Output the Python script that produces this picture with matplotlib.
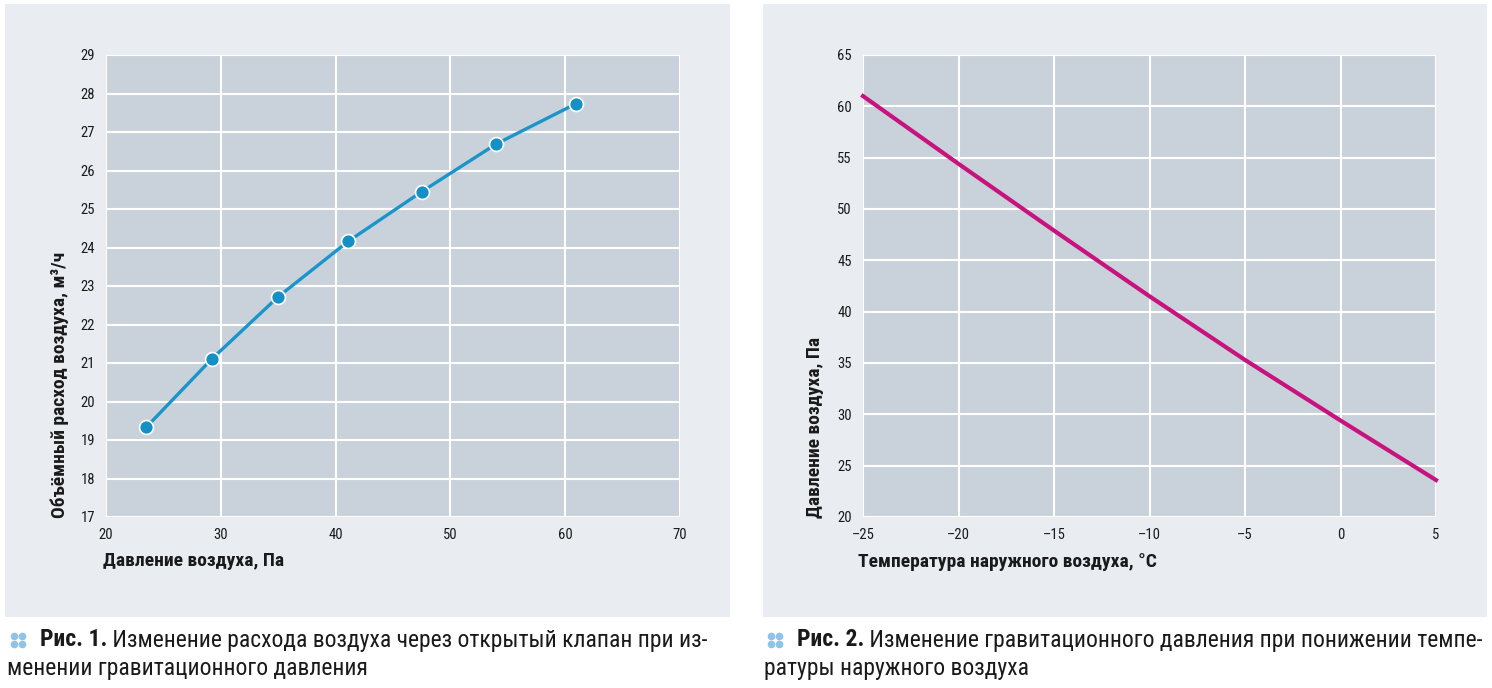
import matplotlib
matplotlib.use("Agg")
import matplotlib.pyplot as plt
from matplotlib import font_manager as fm
from matplotlib.patches import Rectangle
from matplotlib.lines import Line2D

# ---- data ----
pressure_pa = [23.5, 29.2, 35.0, 41.1, 47.5, 54.0, 60.9]
flow_m3h = [19.33, 21.10, 22.72, 24.16, 25.45, 26.69, 27.73]

temp_c = [-25, -20, -15, -10, -5, 0, 5]
grav_pressure_pa = [61.0, 54.4, 47.9, 41.5, 35.3, 29.4, 23.6]

left_xticks = [20, 30, 40, 50, 60, 70]
left_yticks = list(range(17, 30))
right_xticks = [-25, -20, -15, -10, -5, 0, 5]
right_yticks = [20, 25, 30, 35, 40, 45, 50, 55, 60, 65]

left_xlabel = "Давление воздуха, Па"
left_ylabel = "Объёмный расход воздуха, м³/ч"
right_xlabel = "Температура наружного воздуха, °С"
right_ylabel = "Давление воздуха, Па"
cap1_bold = "Рис. 1."
cap1_rest = " Изменение расхода воздуха через открытый клапан при из-"
cap1_line2 = "менении гравитационного давления"
cap2_bold = "Рис. 2."
cap2_rest = " Изменение гравитационного давления при понижении темпе-"
cap2_line2 = "ратуры наружного воздуха"

# ---- fonts ----
names = {f.name for f in fm.fontManager.ttflist}
narrow = None
for cand in ["Roboto Condensed", "Liberation Sans Narrow", "DejaVu Sans Condensed", "Open Sans Condensed"]:
    if cand in names:
        narrow = cand
        break
if narrow is None:
    narrow = "DejaVu Sans"
FAM = [narrow, "DejaVu Sans"]
plt.rcParams['font.family'] = FAM

W, H = 1492, 688
fig = plt.figure(figsize=(W / 100, H / 100), dpi=100)
fig.patch.set_facecolor("white")

def px(x0, y0, x1, y1):
    return [x0 / W, 1 - y1 / H, (x1 - x0) / W, (y1 - y0) / H]

panel_col = "#e9edf1"
axes_col = "#c9d2db"
for (x0, x1) in [(5, 730), (763, 1487)]:
    r = Rectangle((x0 / W, 1 - 617 / H), (x1 - x0) / W, 613 / H, transform=fig.transFigure,
                  facecolor=panel_col, edgecolor="none", zorder=-10)
    fig.add_artist(r)

def style(ax):
    ax.set_facecolor(axes_col)
    ax.set_zorder(1)
    for s in ax.spines.values():
        s.set_visible(False)
    ax.grid(True, color="white", lw=1.5)
    ax.set_axisbelow(True)
    ax.tick_params(length=0, labelsize=10.5, colors="#1a1a1a", pad=8)

# left
ax1 = fig.add_axes(px(106, 55, 680, 517))
style(ax1)
ax1.plot(pressure_pa, flow_m3h, color="#1b95c9", lw=2.4, marker="o", ms=10,
         mfc="#1590c4", mec="white", mew=1.2, solid_capstyle="round", zorder=3, clip_on=False)
ax1.set_xlim(20, 70)
ax1.set_ylim(17, 29)
ax1.set_xticks(left_xticks)
ax1.set_yticks(left_yticks)

# right
ax2 = fig.add_axes(px(863, 55, 1436, 517))
style(ax2)
ax2.plot(temp_c, grav_pressure_pa, color="#c8137f", lw=3.0, zorder=3, clip_on=False)
ax2.set_xlim(-25, 5)
ax2.set_ylim(20, 65)
ax2.set_xticks(right_xticks)
ax2.set_xticklabels([("\u2013" + str(-v)) if v < 0 else str(v) for v in right_xticks])
ax2.set_yticks(right_yticks)

lab_kw = dict(fontsize=14, fontweight="bold", color="#1a1a1a", family=FAM)
fig.text(103 / W, 1 - 561 / H, left_xlabel, ha="left", va="center", **lab_kw)
fig.text(60 / W, 1 - 518 / H, left_ylabel, ha="center", va="bottom", rotation=90, **lab_kw)
fig.text(858 / W, 1 - 562 / H, right_xlabel, ha="left", va="center", **lab_kw)
fig.text(815 / W, 1 - 518 / H, right_ylabel, ha="center", va="bottom", rotation=90, **lab_kw)

# captions
cap_kw = dict(fontsize=17, color="#1a1a1a", va="center")
def caption(x0, bold, rest, line2, dotx):
    t = fig.text(x0 / W, 1 - 640 / H, bold, fontweight="bold", **cap_kw)
    fig.canvas.draw()
    bb = t.get_window_extent()
    fig.text(bb.x1 / W, 1 - 640 / H, rest, **cap_kw)
    fig.text((x0 - 33) / W, 1 - 668 / H, line2, **cap_kw)
    for dx in (0, 8):
        for dy in (0, 8):
            fig.add_artist(Line2D([(dotx + dx) / W], [1 - (636 + dy) / H], transform=fig.transFigure,
                                  marker="o", ms=5.5, mfc="#8fc3e8", mec="none", ls="none"))

caption(40, cap1_bold, cap1_rest, cap1_line2, 14)
caption(797, cap2_bold, cap2_rest, cap2_line2, 771)

fig.savefig("out.png", dpi=100)
